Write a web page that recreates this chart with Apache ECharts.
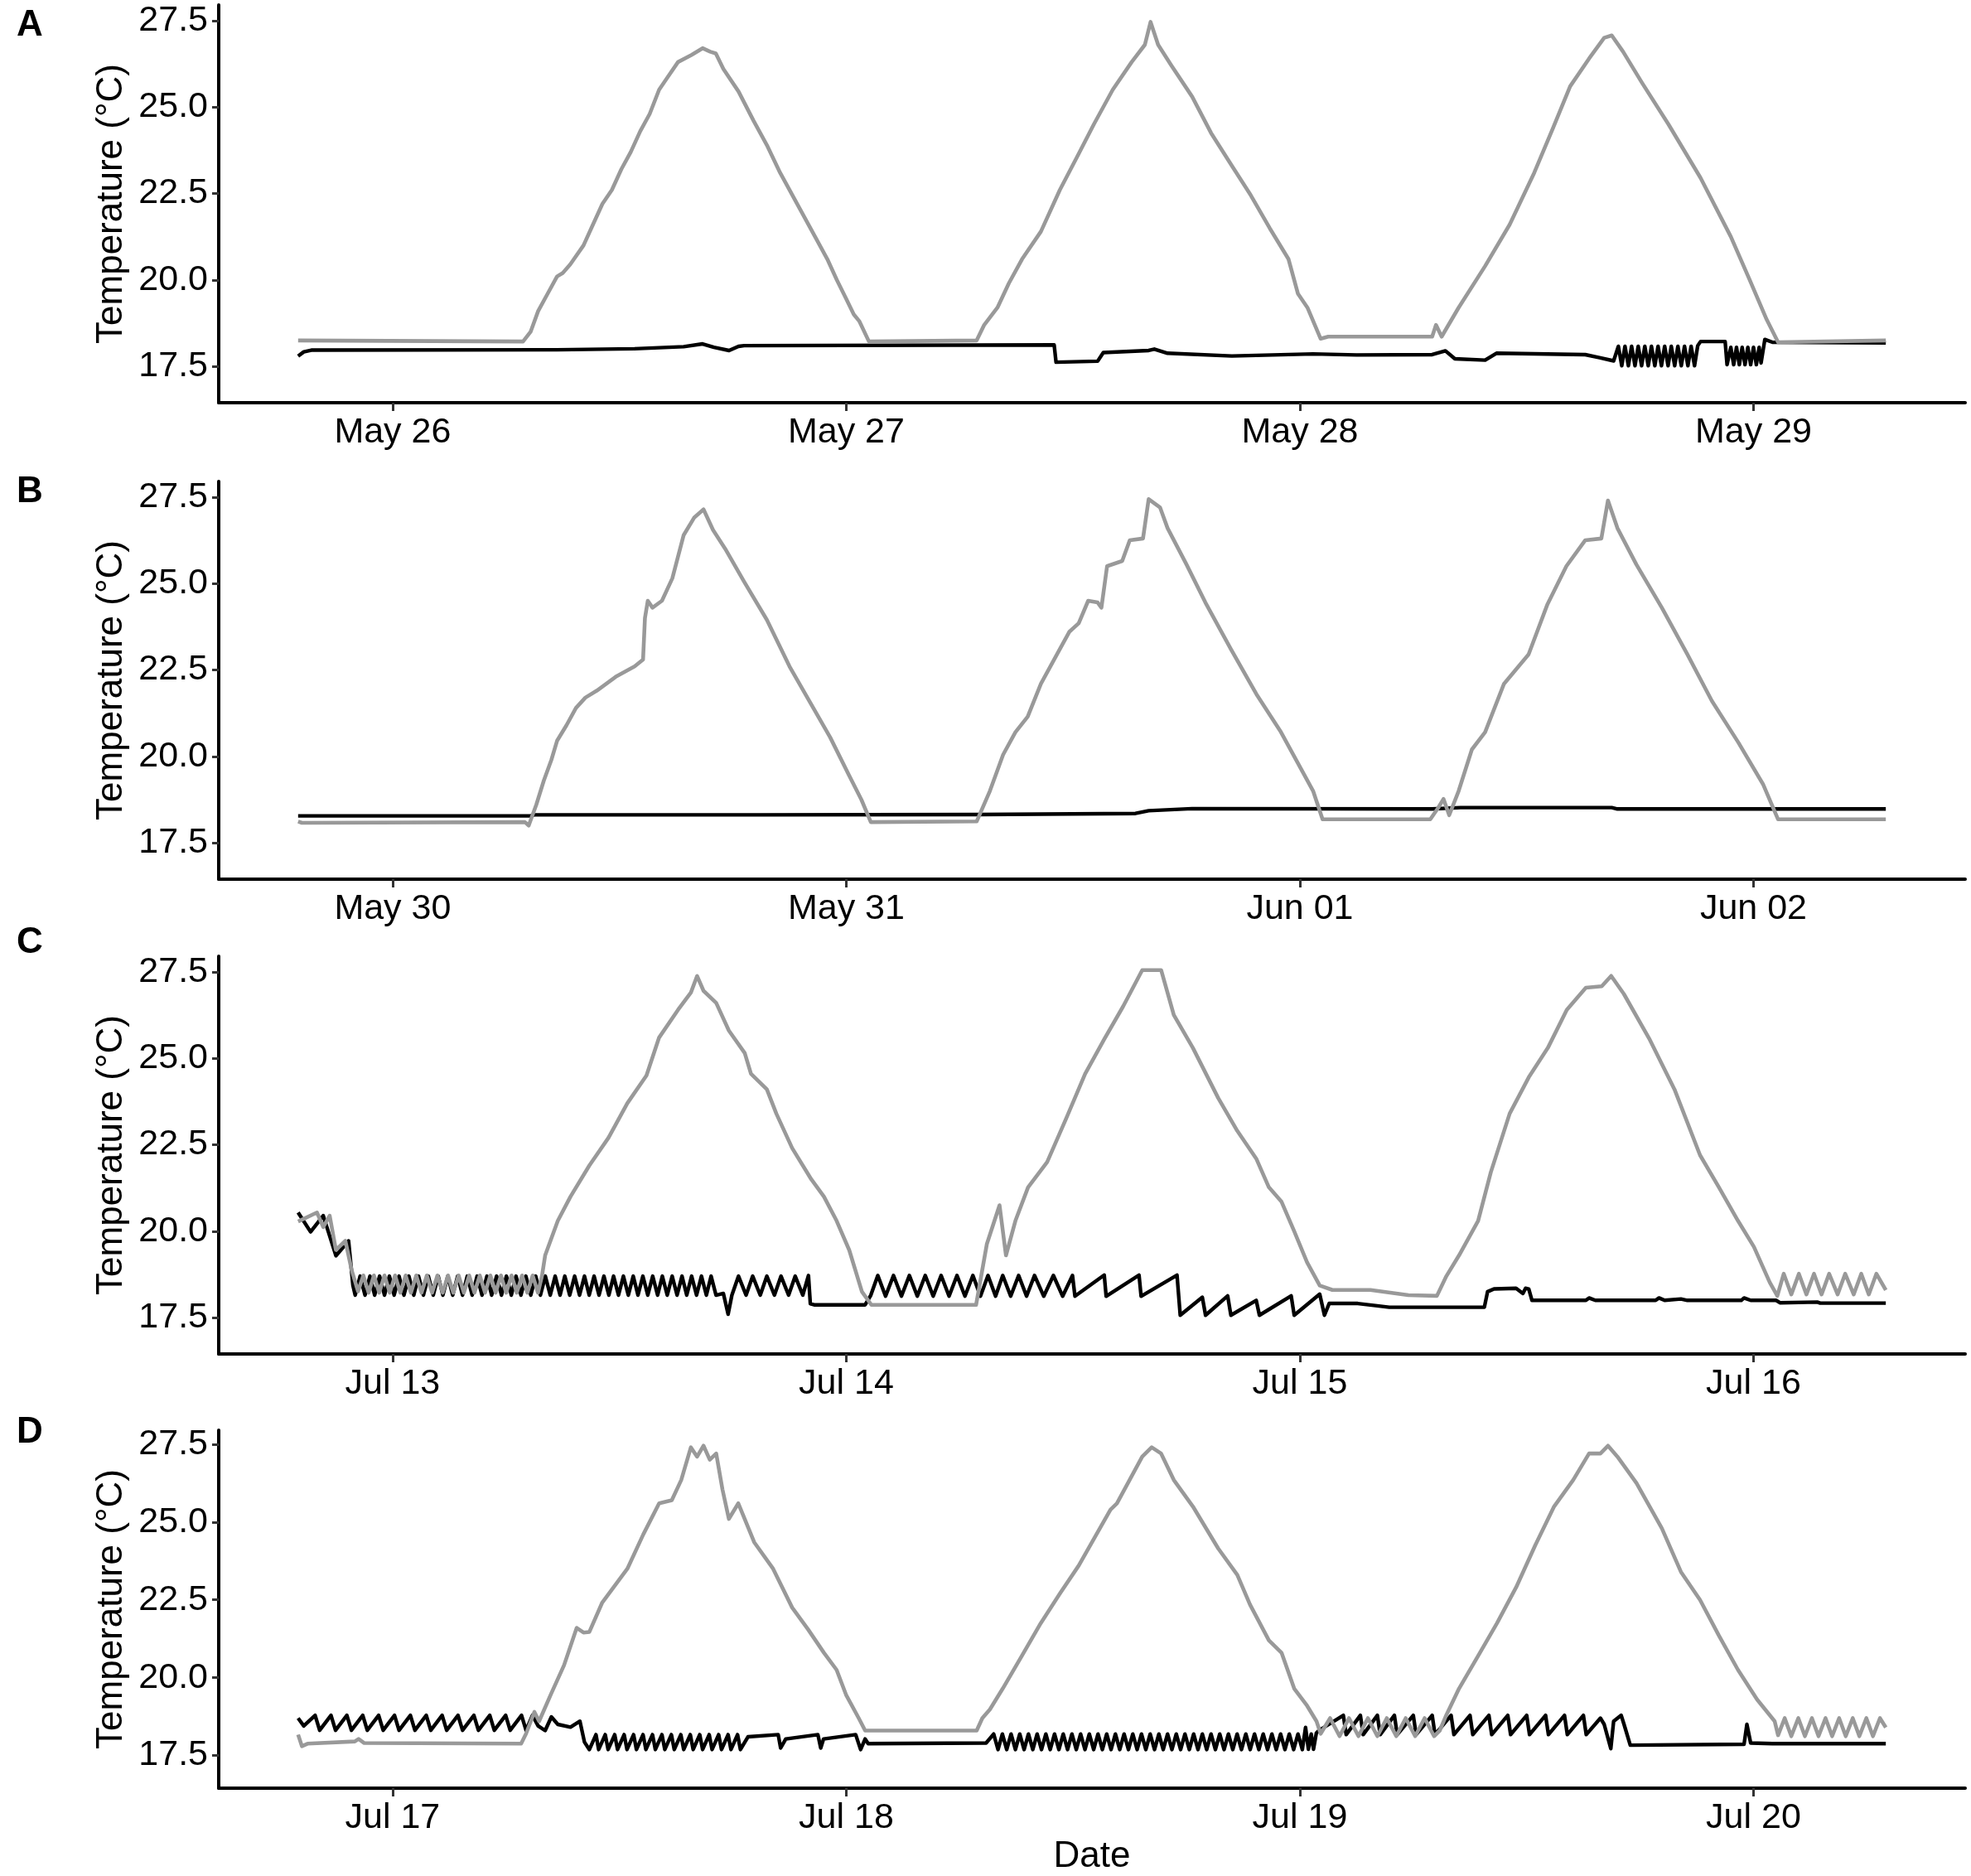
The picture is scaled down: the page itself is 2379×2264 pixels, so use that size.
<!DOCTYPE html>
<html><head><meta charset="utf-8">
<script src="https://cdn.jsdelivr.net/npm/echarts@6/dist/echarts.min.js"></script>
<style>html,body{margin:0;padding:0;background:#fff}#c{width:2379px;height:2264px}</style>
</head><body><div id="c"></div>
<script>
// x values are hours from midnight of the first labelled day of each panel
const panelLetters = ['A', 'B', 'C', 'D'];
const dayLabelsA = ['May 26', 'May 27', 'May 28', 'May 29'];
const dayLabelsB = ['May 30', 'May 31', 'Jun 01', 'Jun 02'];
const dayLabelsC = ['Jul 13', 'Jul 14', 'Jul 15', 'Jul 16'];
const dayLabelsD = ['Jul 17', 'Jul 18', 'Jul 19', 'Jul 20'];
const dayTickHours = [0, 24, 48, 72];
const tempTicks = [17.5, 20, 22.5, 25, 27.5];
const yTitle = 'Temperature (°C)';
const xTitle = 'Date';

const grayA = [[-5.0,18.25],[6.9,18.22],[7.3,18.5],[7.7,19.1],[8.2,19.6],[8.7,20.1],[9.0,20.2],[9.4,20.45],[10.1,21.0],[10.6,21.6],[11.1,22.2],[11.6,22.6],[12.1,23.2],[12.6,23.7],[13.1,24.3],[13.6,24.8],[14.1,25.5],[14.6,25.9],[15.1,26.3],[15.8,26.5],[16.4,26.7],[16.8,26.6],[17.1,26.55],[17.5,26.1],[18.3,25.45],[19.1,24.6],[19.8,23.9],[20.5,23.1],[21.5,22.1],[22.5,21.1],[23.0,20.6],[23.5,20.0],[24.0,19.45],[24.4,19.0],[24.7,18.8],[25.2,18.22],[30.9,18.25],[31.3,18.7],[32.0,19.2],[32.6,19.9],[33.3,20.6],[34.3,21.4],[35.3,22.6],[36.3,23.65],[37.1,24.5],[38.1,25.5],[39.1,26.3],[39.8,26.8],[40.1,27.46],[40.5,26.8],[41.2,26.2],[42.3,25.3],[43.3,24.25],[44.4,23.3],[45.4,22.45],[46.4,21.5],[47.4,20.6],[47.9,19.6],[48.4,19.2],[49.1,18.3],[49.5,18.36],[55.0,18.36],[55.2,18.7],[55.5,18.36],[56.4,19.2],[57.8,20.4],[59.1,21.6],[60.4,23.1],[61.4,24.4],[62.3,25.6],[63.3,26.4],[64.1,27.0],[64.5,27.07],[65.1,26.6],[66.1,25.7],[67.5,24.5],[69.2,22.95],[70.8,21.25],[71.8,20.0],[72.7,18.85],[73.3,18.2],[79.0,18.25]];
const blackA = [[-5.0,17.8],[-4.7,17.92],[-4.3,17.97],[8.7,17.98],[12.8,18.01],[15.4,18.07],[16.4,18.15],[17.0,18.05],[17.8,17.96],[18.3,18.08],[18.6,18.1],[35.0,18.12],[35.1,17.62],[37.3,17.65],[37.6,17.9],[40.0,17.96],[40.3,18.0],[41.0,17.88],[44.4,17.8],[48.7,17.86],[51.0,17.83],[55.0,17.84],[55.7,17.95],[56.2,17.72],[57.8,17.68],[58.4,17.88],[63.1,17.84],[63.8,17.76],[64.6,17.66],[64.85,18.08],[65.03,17.52],[65.2,18.08],[65.38,17.52],[65.55,18.08],[65.73,17.52],[65.9,18.08],[66.08,17.52],[66.25,18.08],[66.43,17.52],[66.6,18.08],[66.78,17.52],[66.95,18.08],[67.13,17.52],[67.3,18.08],[67.48,17.52],[67.65,18.08],[67.83,17.52],[68.0,18.08],[68.18,17.52],[68.35,18.08],[68.53,17.52],[68.7,18.08],[68.88,17.52],[69.05,18.1],[69.2,18.22],[70.5,18.22],[70.6,17.55],[70.8,18.05],[70.95,17.55],[71.1,18.05],[71.25,17.55],[71.4,18.05],[71.55,17.55],[71.7,18.05],[71.85,17.55],[72.0,18.05],[72.15,17.55],[72.3,18.05],[72.4,17.6],[72.6,18.28],[73.0,18.2],[79.0,18.18]];

const grayB = [[-5.0,18.12],[-4.8,18.08],[7.0,18.1],[7.2,18.0],[7.6,18.6],[8.0,19.3],[8.4,19.9],[8.7,20.45],[9.2,20.9],[9.7,21.4],[10.2,21.7],[10.8,21.9],[11.8,22.3],[12.8,22.6],[13.25,22.8],[13.35,24.0],[13.5,24.5],[13.75,24.3],[14.25,24.5],[14.8,25.15],[15.4,26.4],[15.95,26.9],[16.45,27.14],[16.95,26.55],[17.6,26.0],[18.6,25.05],[19.8,23.95],[21.0,22.6],[22.15,21.5],[23.15,20.55],[24.15,19.45],[24.8,18.75],[25.3,18.1],[30.9,18.12],[31.6,19.0],[32.3,20.05],[32.95,20.7],[33.6,21.15],[34.3,22.1],[35.3,23.1],[35.8,23.6],[36.3,23.85],[36.8,24.5],[37.3,24.45],[37.5,24.3],[37.8,25.5],[38.6,25.65],[39.0,26.25],[39.7,26.3],[40.0,27.44],[40.6,27.2],[41.0,26.6],[42.0,25.55],[43.0,24.45],[44.35,23.1],[45.7,21.8],[47.0,20.7],[48.0,19.7],[48.7,19.0],[49.2,18.18],[54.9,18.18],[55.3,18.5],[55.6,18.77],[55.9,18.3],[56.4,19.0],[57.1,20.2],[57.8,20.7],[58.8,22.1],[60.1,22.95],[61.1,24.4],[62.1,25.5],[63.1,26.25],[63.95,26.3],[64.3,27.4],[64.8,26.6],[65.8,25.55],[67.15,24.3],[68.5,22.95],[69.8,21.6],[71.2,20.4],[72.5,19.2],[73.3,18.18],[79.0,18.18]];
const blackB = [[-5.0,18.28],[7.3,18.28],[7.5,18.31],[19.5,18.31],[31.0,18.32],[39.3,18.35],[40.0,18.43],[42.3,18.49],[55.0,18.48],[56.5,18.52],[64.5,18.52],[64.8,18.48],[79.0,18.48]];

const grayC = [[-5.0,20.28],[-4.0,20.54],[-3.67,20.12],[-3.33,20.45],[-3.0,19.46],[-2.5,19.72],[-2.16,18.86],[-1.83,18.26],[-1.55,18.72],[-1.27,18.22],[-0.99,18.72],[-0.71,18.22],[-0.43,18.72],[-0.15,18.22],[0.13,18.72],[0.41,18.22],[0.69,18.72],[0.97,18.22],[1.25,18.72],[1.53,18.22],[1.81,18.72],[2.09,18.22],[2.37,18.72],[2.65,18.22],[2.93,18.72],[3.21,18.22],[3.49,18.72],[3.77,18.22],[4.05,18.72],[4.33,18.22],[4.61,18.72],[4.89,18.22],[5.17,18.72],[5.45,18.22],[5.73,18.72],[6.01,18.22],[6.29,18.72],[6.57,18.22],[6.85,18.72],[7.13,18.22],[7.41,18.72],[7.69,18.22],[7.9,18.7],[8.07,19.3],[8.74,20.3],[9.41,21.0],[10.41,21.9],[11.42,22.7],[12.42,23.7],[13.43,24.5],[14.1,25.6],[15.1,26.4],[15.78,26.9],[16.11,27.38],[16.45,26.95],[17.12,26.6],[17.79,25.8],[18.63,25.15],[18.96,24.55],[19.8,24.1],[20.3,23.4],[21.14,22.4],[22.15,21.5],[22.82,21.0],[23.49,20.3],[24.16,19.45],[24.83,18.25],[25.33,17.87],[30.87,17.87],[31.44,19.63],[32.11,20.75],[32.45,19.3],[32.95,20.3],[33.62,21.27],[34.63,22.0],[35.63,23.25],[36.64,24.55],[37.65,25.55],[38.65,26.5],[39.66,27.55],[40.66,27.55],[41.33,26.25],[42.34,25.3],[43.68,23.85],[44.69,22.9],[45.69,22.1],[46.36,21.27],[47.03,20.85],[47.7,20.0],[48.38,19.1],[49.05,18.43],[49.72,18.3],[51.73,18.3],[53.74,18.15],[55.25,18.13],[55.75,18.7],[56.42,19.3],[57.43,20.3],[58.1,21.7],[59.1,23.4],[60.11,24.45],[61.12,25.3],[62.12,26.4],[63.13,27.04],[63.97,27.08],[64.47,27.38],[65.14,26.86],[66.48,25.57],[67.82,24.1],[69.17,22.2],[70.17,21.27],[71.18,20.3],[72.02,19.55],[72.86,18.52],[73.26,18.13],[73.6,18.77],[74.0,18.17],[74.4,18.77],[74.8,18.17],[75.2,18.77],[75.6,18.17],[76.0,18.77],[76.45,18.17],[76.85,18.77],[77.3,18.17],[77.7,18.77],[78.1,18.17],[78.5,18.77],[79.0,18.3]];
const blackC = [[-5.0,20.54],[-4.34,19.98],[-3.67,20.45],[-3.0,19.29],[-2.33,19.72],[-2.1,18.43],[-1.98,18.15],[-1.72,18.7],[-1.46,18.15],[-1.2,18.7],[-0.95,18.15],[-0.69,18.7],[-0.43,18.15],[-0.17,18.7],[0.08,18.15],[0.34,18.7],[0.6,18.15],[0.86,18.7],[1.12,18.15],[1.37,18.7],[1.63,18.15],[1.89,18.7],[2.15,18.15],[2.41,18.7],[2.66,18.15],[2.92,18.7],[3.18,18.15],[3.44,18.7],[3.7,18.15],[3.95,18.7],[4.21,18.15],[4.47,18.7],[4.73,18.15],[4.99,18.7],[5.24,18.15],[5.5,18.7],[5.76,18.15],[6.02,18.7],[6.28,18.15],[6.53,18.7],[6.79,18.15],[7.05,18.7],[7.31,18.15],[7.57,18.7],[7.82,18.15],[8.08,18.7],[8.34,18.15],[8.6,18.7],[8.86,18.15],[9.11,18.7],[9.37,18.15],[9.63,18.7],[9.89,18.15],[10.15,18.7],[10.4,18.15],[10.66,18.7],[10.92,18.15],[11.18,18.7],[11.44,18.15],[11.69,18.7],[11.95,18.15],[12.21,18.7],[12.47,18.15],[12.73,18.7],[12.98,18.15],[13.24,18.7],[13.5,18.15],[13.76,18.7],[14.02,18.15],[14.27,18.7],[14.53,18.15],[14.79,18.7],[15.05,18.15],[15.31,18.7],[15.56,18.15],[15.82,18.7],[16.08,18.15],[16.34,18.7],[16.6,18.15],[16.85,18.7],[17.11,18.15],[17.5,18.2],[17.75,17.6],[17.95,18.15],[18.3,18.7],[18.7,18.15],[19.05,18.7],[19.45,18.15],[19.8,18.7],[20.2,18.15],[20.55,18.7],[20.95,18.15],[21.3,18.7],[21.7,18.15],[22.0,18.72],[22.1,17.9],[22.3,17.87],[25.0,17.87],[25.3,18.15],[25.67,18.72],[26.08,18.12],[26.5,18.72],[26.92,18.12],[27.34,18.72],[27.76,18.12],[28.18,18.72],[28.6,18.12],[29.02,18.72],[29.44,18.12],[29.86,18.72],[30.28,18.12],[30.7,18.72],[31.1,18.12],[31.5,18.72],[31.9,18.12],[32.28,18.72],[32.7,18.12],[33.12,18.72],[33.54,18.12],[33.96,18.72],[34.45,18.12],[34.96,18.72],[35.45,18.12],[35.97,18.72],[36.1,18.12],[37.65,18.73],[37.75,18.12],[39.49,18.73],[39.6,18.12],[41.5,18.73],[41.67,17.57],[42.84,18.09],[43.01,17.57],[44.18,18.13],[44.35,17.57],[45.69,18.0],[45.86,17.57],[47.54,18.13],[47.7,17.57],[49.05,18.18],[49.3,17.57],[49.55,17.91],[51.06,17.91],[52.0,17.85],[52.73,17.8],[57.76,17.8],[57.93,18.25],[58.27,18.33],[59.44,18.35],[59.8,18.2],[59.94,18.35],[60.11,18.33],[60.28,18.0],[63.13,18.0],[63.3,18.07],[63.63,18.0],[66.82,18.0],[67.0,18.07],[67.3,18.0],[68.16,18.04],[68.5,18.0],[71.35,18.0],[71.5,18.07],[71.85,18.0],[73.2,18.0],[73.4,17.93],[75.37,17.95],[75.53,17.92],[79.0,17.92]];

const grayD = [[-5.0,18.17],[-4.8,17.8],[-4.5,17.88],[-2.0,17.95],[-1.8,18.03],[-1.5,17.9],[6.8,17.88],[7.06,18.2],[7.5,18.9],[7.75,18.6],[8.4,19.5],[9.07,20.4],[9.74,21.6],[10.1,21.45],[10.41,21.47],[11.08,22.4],[12.42,23.5],[13.26,24.6],[14.1,25.6],[14.77,25.7],[15.27,26.35],[15.78,27.4],[16.11,27.1],[16.45,27.45],[16.78,27.0],[17.12,27.2],[17.45,26.05],[17.79,25.1],[18.29,25.6],[19.13,24.35],[20.13,23.5],[21.14,22.25],[21.98,21.55],[22.82,20.8],[23.49,20.25],[23.99,19.45],[24.66,18.7],[25.0,18.3],[30.9,18.3],[31.2,18.7],[31.6,18.98],[32.28,19.65],[33.29,20.7],[34.29,21.75],[35.3,22.7],[36.3,23.6],[37.14,24.5],[37.98,25.4],[38.32,25.6],[38.99,26.35],[39.66,27.1],[40.16,27.4],[40.66,27.2],[41.33,26.35],[42.34,25.5],[43.68,24.15],[44.69,23.3],[45.36,22.35],[46.36,21.2],[47.03,20.8],[47.7,19.65],[48.38,19.1],[48.88,18.6],[49.1,18.2],[49.6,18.7],[50.1,18.12],[50.6,18.7],[51.1,18.12],[51.6,18.7],[52.1,18.12],[52.6,18.7],[53.1,18.12],[53.6,18.7],[54.1,18.12],[54.6,18.7],[55.1,18.12],[55.4,18.3],[55.75,18.8],[56.42,19.65],[57.43,20.7],[58.43,21.75],[59.44,22.9],[60.45,24.25],[61.45,25.5],[62.46,26.35],[63.3,27.2],[63.9,27.2],[64.3,27.45],[64.8,27.1],[65.81,26.25],[67.15,24.8],[68.16,23.4],[69.17,22.5],[70.17,21.35],[71.18,20.25],[72.19,19.3],[73.12,18.6],[73.3,18.15],[73.65,18.7],[74.0,18.12],[74.37,18.7],[74.72,18.12],[75.09,18.7],[75.44,18.12],[75.81,18.7],[76.16,18.12],[76.53,18.7],[76.88,18.12],[77.25,18.7],[77.6,18.12],[77.97,18.7],[78.32,18.12],[78.69,18.7],[79.0,18.4]];
const blackD = [[-5.0,18.7],[-4.7,18.45],[-4.1,18.79],[-3.86,18.31],[-3.26,18.79],[-3.02,18.31],[-2.42,18.79],[-2.18,18.31],[-1.58,18.79],[-1.34,18.31],[-0.74,18.79],[-0.5,18.31],[0.1,18.79],[0.34,18.31],[0.94,18.79],[1.18,18.31],[1.78,18.79],[2.02,18.31],[2.62,18.79],[2.86,18.31],[3.46,18.79],[3.7,18.31],[4.3,18.79],[4.54,18.31],[5.14,18.79],[5.38,18.31],[5.98,18.79],[6.22,18.31],[6.82,18.79],[7.06,18.31],[7.4,18.79],[7.7,18.45],[8.07,18.3],[8.4,18.74],[8.74,18.5],[9.41,18.41],[9.91,18.6],[10.15,17.93],[10.41,17.69],[10.76,18.17],[10.9,17.69],[11.25,18.17],[11.4,17.69],[11.75,18.17],[11.9,17.69],[12.25,18.17],[12.4,17.69],[12.75,18.17],[12.9,17.69],[13.25,18.17],[13.4,17.69],[13.75,18.17],[13.9,17.69],[14.25,18.17],[14.4,17.69],[14.75,18.17],[14.9,17.69],[15.25,18.17],[15.4,17.69],[15.75,18.17],[15.9,17.69],[16.25,18.17],[16.4,17.69],[16.75,18.17],[16.9,17.69],[17.25,18.17],[17.4,17.69],[17.75,18.17],[17.9,17.69],[18.25,18.17],[18.4,17.69],[18.8,18.1],[20.4,18.17],[20.53,17.74],[20.8,18.03],[22.5,18.17],[22.65,17.74],[22.8,18.03],[24.5,18.17],[24.76,17.69],[25.0,18.03],[25.16,17.88],[31.4,17.9],[31.8,18.19],[32.03,17.69],[32.26,18.19],[32.49,17.69],[32.72,18.19],[32.95,17.69],[33.18,18.19],[33.41,17.69],[33.64,18.19],[33.87,17.69],[34.1,18.19],[34.33,17.69],[34.56,18.19],[34.79,17.69],[35.02,18.19],[35.25,17.69],[35.48,18.19],[35.71,17.69],[35.94,18.19],[36.17,17.69],[36.4,18.19],[36.63,17.69],[36.86,18.19],[37.09,17.69],[37.32,18.19],[37.55,17.69],[37.78,18.19],[38.01,17.69],[38.24,18.19],[38.47,17.69],[38.7,18.19],[38.93,17.69],[39.16,18.19],[39.39,17.69],[39.62,18.19],[39.85,17.69],[40.08,18.19],[40.31,17.69],[40.54,18.19],[40.77,17.69],[41.0,18.19],[41.23,17.69],[41.46,18.19],[41.69,17.69],[41.92,18.19],[42.15,17.69],[42.38,18.19],[42.61,17.69],[42.84,18.19],[43.07,17.69],[43.3,18.19],[43.53,17.69],[43.76,18.19],[43.99,17.69],[44.22,18.19],[44.45,17.69],[44.68,18.19],[44.91,17.69],[45.14,18.19],[45.37,17.69],[45.6,18.19],[45.83,17.69],[46.06,18.19],[46.29,17.69],[46.52,18.19],[46.75,17.69],[46.98,18.19],[47.21,17.69],[47.44,18.19],[47.67,17.69],[47.9,18.19],[48.13,17.69],[48.3,18.4],[48.45,17.7],[48.6,18.19],[48.72,17.7],[48.87,18.22],[49.0,18.3],[50.3,18.79],[50.45,18.17],[51.2,18.79],[51.35,18.17],[52.1,18.79],[52.25,18.17],[53.0,18.79],[53.15,18.17],[54.0,18.79],[54.15,18.17],[55.0,18.79],[55.15,18.17],[56.0,18.79],[56.15,18.17],[57.0,18.79],[57.15,18.17],[58.0,18.79],[58.15,18.17],[59.0,18.79],[59.15,18.17],[60.0,18.79],[60.15,18.17],[61.0,18.79],[61.15,18.17],[62.0,18.79],[62.15,18.17],[63.0,18.79],[63.15,18.17],[63.9,18.7],[64.1,18.5],[64.45,17.72],[64.6,18.6],[65.0,18.79],[65.15,18.5],[65.48,17.83],[71.5,17.86],[71.65,18.5],[71.85,17.9],[73.0,17.88],[79.0,17.88]];

const dayLabels = [dayLabelsA, dayLabelsB, dayLabelsC, dayLabelsD];
const grayData = [grayA, grayB, grayC, grayD];
const blackData = [blackA, blackB, blackC, blackD];

const FONT = 'Liberation Sans, Arial, sans-serif';
const gridTops = [6, 581, 1154, 1726];
const gridHeights = [480, 480, 480, 432];
const letterTops = [4, 567, 1111, 1702];

const chart = echarts.init(document.getElementById('c'), null, {renderer: 'canvas'});
const option = {
  animation: false,
  backgroundColor: '#ffffff',
  title: panelLetters.map((t, i) => ({
    text: t, left: 15, top: letterTops[i],
    textStyle: {fontSize: 44, fontWeight: 'bold', color: '#000', fontFamily: FONT}
  })),
  grid: gridTops.map((t, i) => ({left: 264, width: 2108, top: t, height: gridHeights[i]})),
  xAxis: dayLabels.map((labels, i) => ({
    gridIndex: i, type: 'value', min: -9.2, max: 83.2,
    axisLine: {show: true, onZero: false, lineStyle: {color: '#000', width: 4}},
    axisTick: {show: true, customValues: dayTickHours, length: 10, lineStyle: {color: '#333', width: 3}},
    axisLabel: {show: true, customValues: dayTickHours, margin: 15, fontSize: 43, color: '#000', fontFamily: FONT,
      formatter: v => labels[Math.round(v / 24)]},
    splitLine: {show: false},
    name: i === 3 ? xTitle : '', nameLocation: 'middle', nameGap: 61,
    nameTextStyle: {fontSize: 44, color: '#000', fontFamily: FONT}
  })),
  yAxis: dayLabels.map((_, i) => ({
    gridIndex: i, type: 'value', min: 16.45, max: 27.95,
    axisLine: {show: true, onZero: false, lineStyle: {color: '#000', width: 4}},
    axisTick: {show: true, customValues: tempTicks, length: 8, lineStyle: {color: '#333', width: 3}},
    axisLabel: {show: true, customValues: tempTicks, margin: 13, fontSize: 43, color: '#000', fontFamily: FONT,
      formatter: v => Number(v).toFixed(1)},
    splitLine: {show: false},
    name: yTitle, nameLocation: 'middle', nameGap: 105, nameRotate: 90,
    nameTextStyle: {fontSize: 44, color: '#000', fontFamily: FONT}
  })),
  series: []
};
for (let i = 0; i < 4; i++) {
  option.series.push({
    type: 'line', xAxisIndex: i, yAxisIndex: i, data: blackData[i],
    showSymbol: false, symbol: 'none', z: 2,
    lineStyle: {color: '#000000', width: 4.4, join: 'round'}
  });
  option.series.push({
    type: 'line', xAxisIndex: i, yAxisIndex: i, data: grayData[i],
    showSymbol: false, symbol: 'none', z: 3,
    lineStyle: {color: '#999999', width: 4.6, join: 'round'}
  });
}
chart.setOption(option);
</script>
</body></html>
